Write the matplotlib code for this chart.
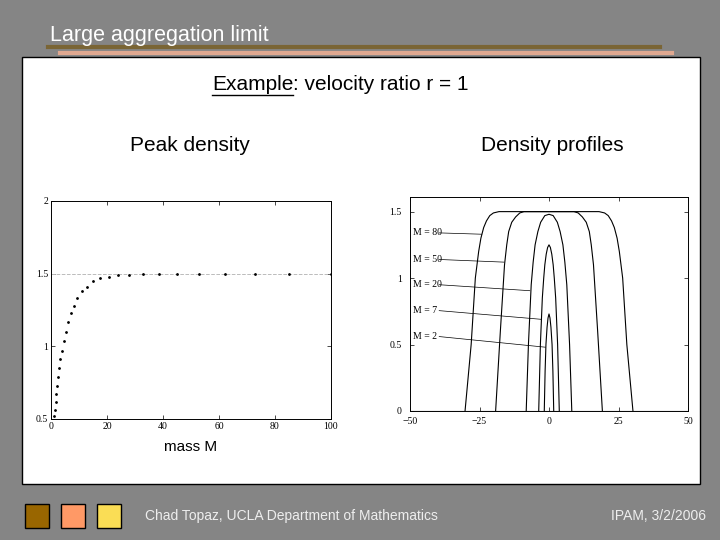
import matplotlib
matplotlib.use("Agg")
import matplotlib.pyplot as plt
from matplotlib.patches import Rectangle
from matplotlib.lines import Line2D

# ---- data ----
mass_M = [1.2, 1.4, 1.7, 1.9, 2.1, 2.5, 2.9, 3.3, 3.8, 4.5, 5.2, 6.1, 7.0, 8.1, 9.4, 11.0,
          12.9, 15.1, 17.6, 20.6, 24, 28, 33, 38.6, 45, 53, 62, 73, 85, 100]
peak_density = [0.52, 0.56, 0.62, 0.67, 0.73, 0.79, 0.85, 0.91, 0.97, 1.04, 1.10, 1.17, 1.23,
                1.28, 1.33, 1.38, 1.41, 1.45, 1.47, 1.48, 1.49, 1.49, 1.50, 1.50, 1.50, 1.50,
                1.50, 1.50, 1.50, 1.50]

prof_x_80 = [-30.2, -28, -26.5, -25.3, -24.5, -23.5, -22.5, -21.3, -20, -18, -15, 0,
             15, 18, 20, 21.3, 22.5, 23.5, 24.5, 25.3, 26.5, 28, 30.2]
prof_y_80 = [0, 0.5, 1.0, 1.2, 1.3, 1.38, 1.43, 1.47, 1.49, 1.5, 1.5, 1.5,
             1.5, 1.5, 1.49, 1.47, 1.43, 1.38, 1.3, 1.2, 1.0, 0.5, 0]
prof_x_50 = [-19.2, -17.5, -16, -15.2, -14.5, -13.4, -12, -10.5, -9, 0,
             9, 10.5, 12, 13.4, 14.5, 15.2, 16, 17.5, 19.2]
prof_y_50 = [0, 0.6, 1.1, 1.25, 1.35, 1.42, 1.46, 1.49, 1.5, 1.5,
             1.5, 1.49, 1.46, 1.42, 1.35, 1.25, 1.1, 0.6, 0]
prof_x_20 = [-8.2, -7.4, -6.4, -5.7, -5, -4, -3, -1.5, 0, 1.5, 3, 4, 5, 5.7, 6.4, 7.4, 8.2]
prof_y_20 = [0, 0.5, 0.95, 1.12, 1.25, 1.35, 1.42, 1.47, 1.48, 1.47, 1.42, 1.35, 1.25, 1.12, 0.95, 0.5, 0]
prof_x_7 = [-3.7, -3.1, -2.4, -1.9, -1.5, -1.0, -0.5, 0, 0.5, 1.0, 1.5, 1.9, 2.4, 3.1, 3.7]
prof_y_7 = [0, 0.5, 0.85, 1.0, 1.1, 1.18, 1.23, 1.25, 1.23, 1.18, 1.1, 1.0, 0.85, 0.5, 0]
prof_x_2 = [-1.7, -1.4, -1.1, -0.7, -0.35, 0, 0.35, 0.7, 1.1, 1.4, 1.7]
prof_y_2 = [0, 0.3, 0.5, 0.63, 0.7, 0.73, 0.7, 0.63, 0.5, 0.3, 0]

labels = ["M = 80", "M = 50", "M = 20", "M = 7", "M = 2"]
label_y = [1.34, 1.14, 0.95, 0.755, 0.56]
leader_end_x = [-24.2, -16.2, -6.9, -2.9, -1.3]
leader_end_y = [1.33, 1.12, 0.905, 0.69, 0.48]

W, H = 720, 540
fig = plt.figure(figsize=(7.2, 5.4), dpi=100, facecolor="#858585")

def fx(x): return x / W
def fy(y): return 1 - y / H

# slide decorations
fig.add_artist(Rectangle((fx(22), fy(484)), fx(678), 427 / H, transform=fig.transFigure,
                         facecolor="white", edgecolor="black", lw=1, zorder=-10))
fig.add_artist(Line2D([fx(48), fx(660)], [fy(47), fy(47)], transform=fig.transFigure, color="#7a6535", lw=3))
fig.add_artist(Line2D([fx(60), fx(672)], [fy(53), fy(53)], transform=fig.transFigure, color="#e0a890", lw=3))
for x0, c in [(25, "#996600"), (61, "#ff9966"), (97, "#fadd55")]:
    fig.add_artist(Rectangle((fx(x0), fy(528)), 24 / W, 24 / H, transform=fig.transFigure,
                             facecolor=c, edgecolor="black", lw=1))

sans = "Liberation Sans"
fig.text(fx(50), fy(36), "Large aggregation limit", color="white", fontsize=15.5, family=sans, va="center")
fig.text(fx(212), fy(85), "Example", fontsize=15, family=sans, va="center")
fig.text(fx(293), fy(85), ": velocity ratio r = 1", fontsize=15, family=sans, va="center")
fig.add_artist(Line2D([fx(212), fx(293)], [fy(95), fy(95)], transform=fig.transFigure, color="black", lw=1))
fig.text(fx(190), fy(145), "Peak density", fontsize=15, family=sans, va="center", ha="center")
fig.text(fx(552), fy(145), "Density profiles", fontsize=15, family=sans, va="center", ha="center")
fig.text(fx(164), fy(447), "mass M", fontsize=11, family=sans, va="center")
fig.text(fx(145), fy(516), "Chad Topaz, UCLA Department of Mathematics", fontsize=10, family=sans,
         va="center", color="#eeeeee")
fig.text(fx(706), fy(516), "IPAM, 3/2/2006", fontsize=10, family=sans, va="center", ha="right", color="#eeeeee")

serif = "Liberation Serif"
def style(ax):
    ax.tick_params(direction="in", top=True, right=True, labelsize=7, length=3, width=0.5)
    for lab in ax.get_xticklabels() + ax.get_yticklabels():
        lab.set_family(serif)
    for s in ax.spines.values():
        s.set_linewidth(0.7)

# left axes
ax1 = fig.add_axes([fx(51), fy(419), 280 / W, 218 / H])
ax1.axhline(1.5, color="#bbbbbb", ls="--", lw=0.7)
ax1.plot(mass_M, peak_density, "k.", ms=2)
ax1.set_xlim(0, 100)
ax1.set_ylim(0.5, 2)
ax1.set_xticks([0, 20, 40, 60, 80, 100])
ax1.set_yticks([0.5, 1, 1.5, 2])
ax1.set_yticklabels(["0.5", "1", "1.5", "2"])
style(ax1)
ax1.tick_params(pad=2)

# right axes
ax2 = fig.add_axes([fx(410), fy(411), 278 / W, 214 / H])
ax2.plot([-50, 50], [0, 0], "k-", lw=0.8)
for px, py in [(prof_x_80, prof_y_80), (prof_x_50, prof_y_50), (prof_x_20, prof_y_20),
               (prof_x_7, prof_y_7), (prof_x_2, prof_y_2)]:
    ax2.plot(px, py, "k-", lw=0.8)
for lab, ly, ex, ey in zip(labels, label_y, leader_end_x, leader_end_y):
    ax2.text(-48.8, ly, lab, fontsize=7, family=serif, va="center")
    ax2.plot([-39.5, ex], [ly, ey], "k-", lw=0.5)
ax2.set_xlim(-50, 50)
ax2.set_ylim(0, 1.61)
ax2.set_xticks([-50, -25, 0, 25, 50])
ax2.set_yticks([0, 0.5, 1, 1.5])
ax2.set_yticklabels(["0", "0.5", "1", "1.5"])
style(ax2)
ax2.tick_params(axis="y", pad=6)
ax2.tick_params(axis="x", pad=4)

fig.savefig("out.png", dpi=100, facecolor=fig.get_facecolor())
